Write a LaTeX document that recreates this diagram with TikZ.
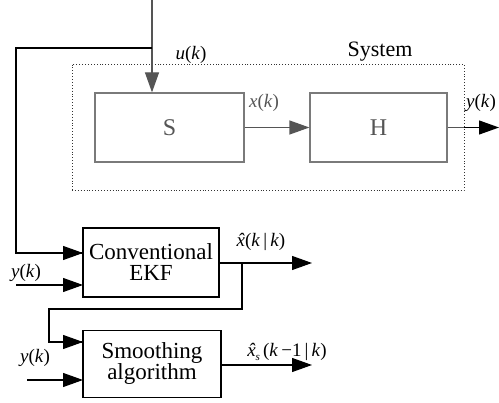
\documentclass[tikz,border=0pt]{standalone}
\usepackage{fontspec}
\setmainfont{Liberation Serif}
\usetikzlibrary{arrows.meta,calc}
\definecolor{gline}{HTML}{555555}
\definecolor{gbox}{HTML}{7A7A7A}
\newcommand{\xhatsym}{\textit{\accent"02C6 x}}
\begin{document}
\begin{tikzpicture}[x=1pt,y=-1pt,
  sysbox/.style={draw=gbox,line width=1.2pt,minimum width=#1,minimum height=69pt,inner sep=0pt,text=gline,font=\fontsize{24}{26}\selectfont},
  blkbox/.style={draw=black,line width=1.2pt,minimum width=#1,minimum height=69pt,inner sep=0pt,align=center,font=\fontsize{23}{25}\selectfont},
  tipg/.style={-{Triangle[length=20pt,width=14pt]}},
  lbl/.style={inner sep=0pt,anchor=base,font=\fontsize{19}{21}\selectfont},
  wire/.style={line width=1.2pt}]
\useasboundingbox (0,0) rectangle (499,403);
% system
\node[draw=black!80,dotted,line width=0.9pt,minimum width=392pt,minimum height=126pt,inner sep=0pt] (sys) at (268,127) {};
\node[lbl,font=\fontsize{22}{24}\selectfont] (systxt) at (380,57) {System};
\node[sysbox=149pt] (S) at (169.5,127.5) {S};
\node[sysbox=137pt] (H) at (378.5,127.5) {H};
% lower boxes
\node[blkbox=136pt] (ekf) at (151,262.5) {Conventional\\[-4pt]EKF};
\node[blkbox=138pt,minimum height=67pt] (sm) at (152,364) {Smoothing\\[-4pt]algorithm};
% coordinates
\coordinate (top) at (152,0);
\coordinate (br) at (152,48);
\coordinate (lc) at (16,48);
\coordinate (e1) at (83,253);
\coordinate (y1) at (16,285);
\coordinate (y1e) at (83,285);
\coordinate (eo) at (312,263);
\coordinate (fb) at (242,263);
\coordinate (fb2) at (49,309);
\coordinate (s1) at (83,342);
\coordinate (y2) at (27,380);
\coordinate (y2e) at (83,380);
\coordinate (so) at (312,365);
\coordinate (out) at (499,127.5);
% connectors
\draw[wire,gline,tipg] (top) -- (S.north -| top);
\draw[wire] (br) -- (lc) |- (e1);
\draw[wire,tipg] (lc |- e1) -- (e1);
\draw[wire,gline,tipg] (S.east) -- (H.west);
\draw[wire,gline] (H.east) -- (sys.east |- H.east);
\draw[wire,tipg] (sys.east |- H.east) -- (out);
\draw[wire,tipg] (y1) -- (y1e);
\draw[wire,tipg] (ekf.east |- eo) -- (eo);
\draw[wire] (fb) |- (fb2) |- (s1);
\draw[wire,tipg] (fb2 |- s1) -- (s1);
\draw[wire,tipg] (y2) -- (y2e);
\draw[wire,tipg] (sm.east |- so) -- (so);
% labels
\node[lbl] (lu) at (191,60) {\textit{u}(\textit{k})};
\node[lbl,text=gline] (lx) at (264,108) {\textit{x}(\textit{k})};
\node[lbl] (ly) at (481,108) {\textit{y}(\textit{k})};
\node[lbl] (lxh) at (261,247) {\xhatsym(\textit{k}\,|\,\textit{k})};
\node[lbl] (ly1) at (26,278) {\textit{y}(\textit{k})};
\node[lbl] (ly2) at (35,363) {\textit{y}(\textit{k})};
\node[lbl] (lxs) at (287,357) {\xhatsym\raisebox{-0.4ex}{\fontsize{11}{12}\selectfont\textit{s}}\,(\textit{k}\,−1\,|\,\textit{k})};
\end{tikzpicture}
\end{document}
